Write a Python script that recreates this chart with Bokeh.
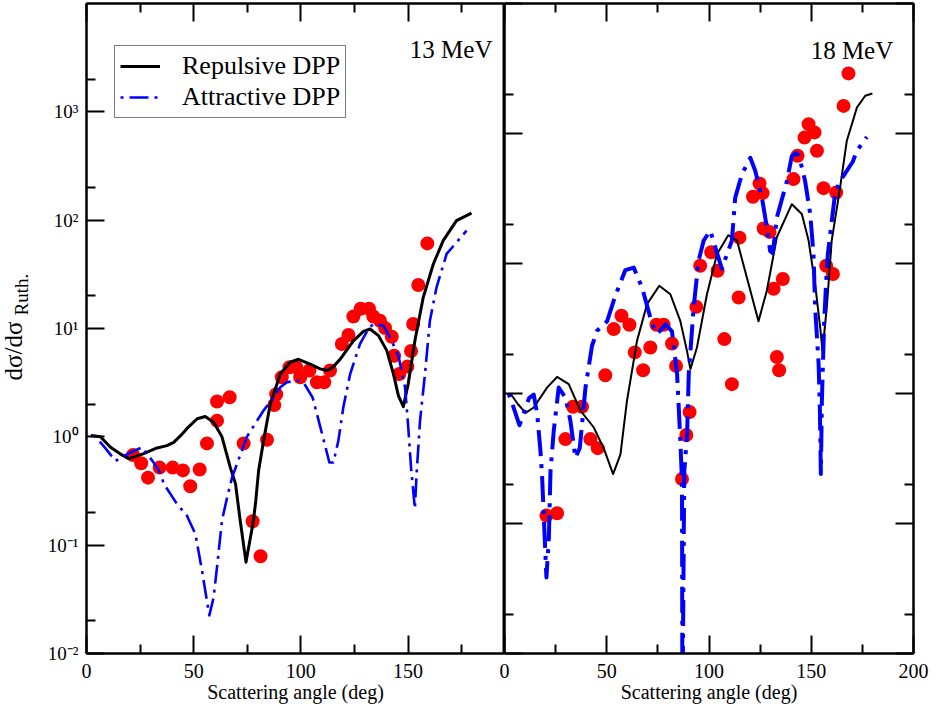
from math import pi
from bokeh.plotting import figure
from bokeh.layouts import row
from bokeh.models import LogAxis, LinearAxis, FixedTicker, CustomJSTickFormatter, Label
from bokeh.embed import file_html
from bokeh.resources import INLINE

FONT = "Liberation Serif"

# ---------------- 13 MeV (left panel) ----------------
exp13_x = [21.7, 25.5, 28.7, 34.1, 40.2, 45.0, 48.4, 52.8, 56.2, 60.9, 60.9, 66.8, 73.3, 77.5,
           81.2, 84.2, 87.6, 88.5, 91.1, 94.7, 97.8, 99.7, 104.0, 107.5, 110.9, 113.6, 119.1,
           122.2, 124.5, 127.9, 131.8, 133.8, 136.9, 139.3, 142.4, 143.5, 145.9, 149.7, 151.4,
           152.4, 154.8, 159.0]
exp13_y = [0.68, 0.57, 0.42, 0.52, 0.52, 0.49, 0.35, 0.50, 0.87, 1.41, 2.12, 2.32, 0.87, 0.166,
           0.079, 0.94, 1.97, 2.47, 3.55, 4.39, 4.39, 3.55, 4.09, 3.19, 3.19, 4.09, 7.2,
           8.7, 12.9, 15.2, 15.2, 12.9, 11.8, 10.1, 8.4, 5.6, 3.8, 4.45, 6.2,
           11.0, 25.2, 61.0]

rep13_x = [2.0, 6.5, 11.2, 15.5, 19.7, 23.0, 26.7, 32.9, 37.5, 40.7, 44.0, 46.8, 51.6, 55.4,
           59.3, 63.2, 67.1, 69.5, 71.7, 74.4, 77.9, 79.0, 80.3, 82.6, 85.7, 90.4, 95.0, 98.9,
           104.3, 109.0, 112.1, 115.0, 118.3, 124.5, 129.2, 132.3, 136.2, 140.1, 143.2, 145.5,
           147.8, 150.1, 153.2, 157.1, 161.8, 166.4, 172.6, 179.6]
rep13_y = [1.03, 1.0, 0.80, 0.70, 0.63, 0.66, 0.70, 0.79, 0.83, 0.89, 1.03, 1.19, 1.47, 1.54,
           1.36, 1.0, 0.52, 0.37, 0.169, 0.0697, 0.169, 0.26, 0.49, 0.92, 2.0, 3.8, 4.88, 5.2,
           4.7, 4.24, 4.09, 4.4, 5.2, 7.7, 9.4, 9.9, 8.6, 6.25, 3.8, 2.4,
           1.9, 3.1, 7.7, 19.4, 39.4, 64.7, 99.0, 116.0]

att13_x = [3.4, 8.5, 13.5, 20.0, 26.0, 31.3, 34.5, 36.0, 42.2, 46.8, 50.8, 53.9, 55.9, 57.3,
           59.3, 60.9, 63.2, 65.5, 67.9, 74.8, 82.6, 87.2, 90.4, 93.5, 98.1, 101.2, 105.5, 109.0,
           112.1, 113.3, 115.2, 117.5, 119.8, 123.0, 127.6, 131.5, 133.8, 138.5, 141.6, 145.5,
           148.6, 150.1, 151.4, 153.2, 154.0, 155.6, 157.9, 160.2, 163.3, 168.0, 177.3]
att13_y = [1.04, 0.80, 0.60, 0.71, 0.80, 0.58, 0.46, 0.37, 0.24, 0.188, 0.127, 0.058, 0.033, 0.0225,
           0.033, 0.063, 0.169, 0.27, 0.42, 1.0, 1.75, 2.3, 2.87, 3.19, 3.3, 3.19, 2.3, 1.25,
           0.72, 0.58, 0.58, 0.92, 1.87, 3.8, 7.2, 9.9, 11.0, 10.6, 8.3, 5.6,
           2.87, 1.23, 0.52, 0.217, 0.46, 1.41, 3.8, 11.8, 24.0, 48.8, 80.0]

# ---------------- 18 MeV (right panel) ----------------
exp18_x = [20.5, 25.7, 29.8, 33.5, 37.9, 42.0, 45.6, 49.3, 53.4, 57.2, 61.1, 63.7, 67.8, 71.3,
           74.3, 77.8, 81.9, 83.9, 86.8, 88.9, 90.5, 93.8, 95.7, 101.1, 104.2, 107.5, 111.2,
           114.5, 114.9, 121.5, 124.7, 126.2, 126.7, 129.6, 131.6, 133.2, 134.3, 136.1, 141.3,
           143.3, 146.7, 148.7, 151.6, 152.8, 156.0, 157.3, 160.6, 162.2, 165.8, 168.2]
exp18_y = [0.115, 0.12, 0.446, 0.79, 0.79, 0.446, 0.38, 1.38, 3.13, 3.96, 3.38, 2.07, 1.51, 2.26,
           3.38, 3.38, 2.42, 1.63, 0.22, 0.48, 0.72, 4.64, 9.6, 12.2, 8.8, 2.62, 1.18,
           5.48, 15.8, 32.6, 41.2, 34.8, 18.6, 17.5, 6.4, 1.91, 1.51, 7.6, 44.6,
           67.4, 93.0, 118.0, 102.0, 73.6, 38.0, 9.6, 8.3, 35.2, 163.0, 290.0]

rep18_x = [2.9, 6.5, 10.3, 14.3, 20.8, 25.7, 31.4, 37.1, 43.6, 48.5, 53.1, 56.7, 59.9, 64.8,
           69.7, 75.7, 81.1, 86.0, 89.3, 90.9, 94.1, 99.0, 103.9, 109.4, 113.7, 120.2, 124.2,
           128.3, 133.2, 140.5, 145.4, 148.7, 151.9, 154.4, 155.5, 157.6, 160.0, 164.1, 167.4,
           172.3, 176.4, 179.9]
rep18_y = [1.0, 0.83, 0.71, 0.78, 1.11, 1.34, 1.18, 0.74, 0.55, 0.38, 0.24, 0.34, 0.88, 2.54,
           4.87, 6.74, 5.8, 3.6, 2.1, 1.54, 2.26, 5.8, 11.8, 16.5, 15.0, 6.2, 3.6,
           6.2, 16.0, 28.6, 24.0, 15.0, 6.9, 3.2, 2.13, 4.6, 15.0, 38.4, 88.0,
           158.0, 195.0, 203.0]

att18_x = [2.0, 4.0, 7.3, 10.0, 12.0, 14.3, 16.0, 17.6, 18.4, 20.5, 21.7, 22.5, 24.1, 26.5,
           29.8, 32.2, 34.7, 36.8, 39.6, 42.8, 45.3, 50.2, 54.2, 59.1, 63.2, 67.3, 71.3, 74.0,
           76.2, 78.7, 81.9, 84.4, 86.0, 86.8, 87.0, 87.9, 89.3, 90.1, 92.5, 94.9, 97.4, 100.6,
           103.1, 106.3, 108.8, 111.2, 112.8, 116.1, 120.2, 122.6, 125.9, 128.3, 129.9, 131.2,
           133.2, 138.1, 140.5, 142.9, 144.6, 147.0, 149.5, 151.1, 151.9, 152.8, 153.6, 154.2,
           154.7, 155.2, 156.3, 157.3, 158.1, 161.7, 164.1, 170.3, 172.3, 177.2]
att18_y = [1.0, 0.82, 0.57, 0.75, 0.92, 0.98, 0.69, 0.36, 0.226, 0.0384, 0.078, 0.254, 0.52, 1.11,
           0.93, 0.62, 0.32, 0.38, 1.11, 2.33, 3.04, 3.6, 5.65, 8.9, 9.3, 6.5, 3.84, 2.9,
           3.04, 3.4, 3.0, 1.41, 0.43, 0.21, 0.003, 0.25, 0.49, 1.41, 4.6, 10.5, 15.0, 17.9,
           13.3, 9.1, 11.8, 15.0, 32.0, 48.7, 65.0, 51.7, 32.0, 18.9, 12.5, 12.0,
           22.6, 43.0, 67.0, 71.0, 62.0, 43.0, 24.0, 11.8, 4.6, 2.7, 1.68, 0.8,
           0.24, 0.88, 3.5, 7.3, 11.8, 35.0, 43.0, 60.6, 73.6, 94.0]

# ---------------- ticks / labels ----------------
x13_major = [0, 50, 100, 150]
x18_major = [0, 50, 100, 150, 200]
x_minor = [25, 75, 125, 175]
y13_major = [1e-2, 1e-1, 1e0, 1e1, 1e2, 1e3]
y18_major = [1e-2, 1e-1, 1e0, 1e1, 1e2, 1e3]
y_minor = [2e-2, 2e-1, 2e0, 2e1, 2e2, 2e3]
x_title = "Scattering angle (deg)"
y_title_main = "d\u03c3/d\u03c3"
y_title_sub = "Ruth."
legend_names = ["Repulsive DPP", "Attractive DPP"]
panel_names = ["13 MeV", "18 MeV"]


def style_axis(ax, show_labels, size="20px"):
    ax.axis_line_width = 2
    ax.axis_line_color = "black"
    ax.major_tick_in = 18
    ax.major_tick_out = 0
    ax.minor_tick_in = 9
    ax.minor_tick_out = 0
    ax.major_tick_line_width = 2
    ax.minor_tick_line_width = 2
    ax.major_tick_line_color = "black"
    ax.minor_tick_line_color = "black"
    if show_labels:
        ax.major_label_text_font = FONT
        ax.major_label_text_font_size = size
        ax.major_label_text_color = "black"
    else:
        ax.formatter = CustomJSTickFormatter(code='return "";')
        ax.major_label_text_color = None
        ax.major_label_text_font_size = "1px"
        ax.major_label_standoff = 0


def style_xtitle(ax):
    ax.axis_label = x_title
    ax.axis_label_text_font = FONT
    ax.axis_label_text_font_size = "20px"
    ax.axis_label_text_font_style = "normal"
    ax.axis_label_text_color = "black"
    ax.axis_label_standoff = 0
    ax.major_label_standoff = 10


sup_formatter = CustomJSTickFormatter(code="""
const e = Math.round(Math.log10(tick));
const m = {"-": "\u207b", "0": "\u2070", "1": "\u00b9", "2": "\u00b2", "3": "\u00b3", "4": "\u2074"};
let s = "";
for (const c of String(e)) { s += m[c]; }
return "10" + s;
""")

# ---------------- left figure ----------------
# canvas starts 14 px left of the page edge so the frame sits at x = 86
p1 = figure(width=518, height=711, x_range=(0, 195), y_range=(1e-2, 1e4), y_axis_type="log",
            output_backend="svg", toolbar_location=None,
            min_border_left=100, min_border_right=0, min_border_top=3, min_border_bottom=58,
            margin=(0, 0, 0, -14))
p1.grid.visible = False
p1.outline_line_color = "black"
p1.outline_line_width = 2

xa = p1.xaxis[0]
xa.ticker = FixedTicker(ticks=x13_major, minor_ticks=x_minor)
style_axis(xa, True)
style_xtitle(xa)

ya = p1.yaxis[0]
ya.ticker = FixedTicker(ticks=y13_major, minor_ticks=y_minor)
ya.formatter = sup_formatter
style_axis(ya, True, "19px")
ya.major_label_standoff = 8

top1 = LinearAxis(ticker=FixedTicker(ticks=x13_major, minor_ticks=x_minor))
style_axis(top1, False)
p1.add_layout(top1, "above")

p1.scatter(exp13_x, exp13_y, size=14, fill_color="#ff0000", line_color=None)
p1.line(rep13_x, rep13_y, line_color="black", line_width=3, line_join="round",
        legend_label=legend_names[0])
p1.line(att13_x, att13_y, line_color="#0000ff", line_width=2.6, line_dash="3 6 19 6",
        line_join="round", legend_label=legend_names[1])

lg = p1.legend[0]
lg.location = (28, 535)
lg.label_text_font = FONT
lg.label_text_font_size = "26px"
lg.label_text_color = "black"
lg.glyph_width = 40
lg.label_standoff = 22
lg.padding = 5
lg.spacing = 1
lg.margin = 0
lg.border_line_color = "black"
lg.border_line_width = 1
lg.background_fill_color = "white"
lg.background_fill_alpha = 1.0

p1.add_layout(Label(x=189.4, y=3767, text=panel_names[0], text_align="right",
                    text_baseline="alphabetic", text_font=FONT, text_font_size="25px",
                    text_color="black"))
# y-axis title, placed in the left side panel so that it is not clipped to the frame
p1.add_layout(Label(x=-27.8, y=3.31, text=y_title_main, angle=pi / 2, text_align="left",
                    text_baseline="bottom", text_font=FONT, text_font_size="25px",
                    text_color="black"), "left")
p1.add_layout(Label(x=-25.6, y=13.2, text=y_title_sub, angle=pi / 2, text_align="left",
                    text_baseline="bottom", text_font=FONT, text_font_size="19px",
                    text_color="black"), "left")

# ---------------- right figure ----------------
p2 = figure(width=454, height=711, x_range=(0, 200), y_range=(1e-2, 1e3), y_axis_type="log",
            output_backend="svg", toolbar_location=None,
            min_border_left=20, min_border_right=25, min_border_top=3, min_border_bottom=58,
            margin=(0, 0, 0, -20), border_fill_color=None)
p2.grid.visible = False
p2.outline_line_color = "black"
p2.outline_line_width = 2

xb = p2.xaxis[0]
xb.ticker = FixedTicker(ticks=x18_major, minor_ticks=x_minor)
style_axis(xb, True)
style_xtitle(xb)

yb = p2.yaxis[0]
yb.ticker = FixedTicker(ticks=y18_major, minor_ticks=y_minor)
style_axis(yb, False)

right2 = LogAxis(ticker=FixedTicker(ticks=y18_major, minor_ticks=y_minor))
style_axis(right2, False)
p2.add_layout(right2, "right")

top2 = LinearAxis(ticker=FixedTicker(ticks=x18_major, minor_ticks=x_minor))
style_axis(top2, False)
p2.add_layout(top2, "above")

p2.scatter(exp18_x, exp18_y, size=14, fill_color="#ff0000", line_color=None)
p2.line(rep18_x, rep18_y, line_color="black", line_width=2, line_join="round")
p2.line(att18_x, att18_y, line_color="#0000ff", line_width=4, line_dash="4 8 26 8",
        line_join="round")

p2.add_layout(Label(x=190.1, y=438, text=panel_names[1], text_align="right",
                    text_baseline="alphabetic", text_font=FONT, text_font_size="25px",
                    text_color="black"))

layout = row(p1, p2)
open("out.html", "w").write(file_html(layout, INLINE))
